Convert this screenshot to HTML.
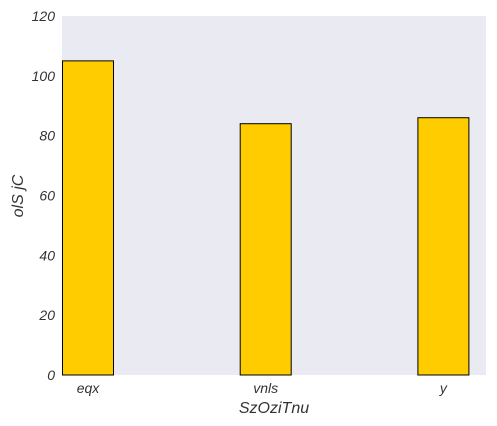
<!DOCTYPE html>
<html><head><meta charset="utf-8"><style>
body{margin:0;background:#fff;}
svg{display:block;font-family:"Liberation Sans",sans-serif;font-style:italic;fill:#333;}
</style></head><body>
<svg id="c" width="497" height="426">
<rect x="62" y="16" width="424" height="359" fill="#eaeaf2"/>
<g id="bars"></g><g id="yt"></g><g id="xt"></g>
<text x="274" y="413" font-size="16" text-anchor="middle">SzOziTnu</text>
<text transform="translate(23,196) rotate(-90)" font-size="16" text-anchor="middle">olS jC</text>
</svg>
<script>
const categories=["eqx","vnls","y"];
const values=[105,84,86];
const yTicks=[0,20,40,60,80,100,120];
const NS="http://www.w3.org/2000/svg";
const y=v=>375-v*359/120;
const xc=i=>88+i*177.7;
const bw=51;
const bars=document.getElementById('bars'),yt=document.getElementById('yt'),xt=document.getElementById('xt');
values.forEach((v,i)=>{
 const r=document.createElementNS(NS,'rect');
 r.setAttribute('x',xc(i)-bw/2);r.setAttribute('y',y(v));
 r.setAttribute('width',bw);r.setAttribute('height',y(0)-y(v));
 r.setAttribute('fill','#ffcc00');r.setAttribute('stroke','#000');r.setAttribute('stroke-width','1');
 
 
 bars.appendChild(r);
 const t=document.createElementNS(NS,'text');
 t.setAttribute('x',xc(i));t.setAttribute('y',393);t.setAttribute('font-size','14');t.setAttribute('text-anchor','middle');
 t.textContent=categories[i];
 
 
 xt.appendChild(t);
});
yTicks.forEach(v=>{
 const t=document.createElementNS(NS,'text');
 t.setAttribute('x',55);t.setAttribute('y',y(v)+5);t.setAttribute('font-size','14');t.setAttribute('text-anchor','end');
 t.textContent=v;
 
 
 yt.appendChild(t);
});
</script>
</body></html>
